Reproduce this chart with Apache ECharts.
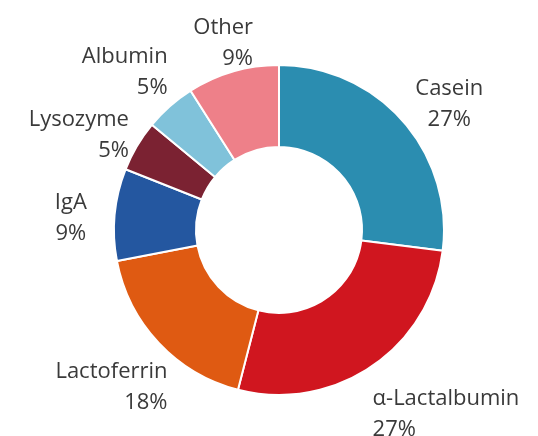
<!DOCTYPE html>
<html>
<head>
<meta charset="utf-8">
<script src="https://cdn.jsdelivr.net/npm/echarts@6/dist/echarts.min.js"></script>
<style>
  html, body { margin: 0; padding: 0; background: #ffffff; }
  #chart { width: 538px; height: 436px; }
</style>
</head>
<body>
<div id="chart"></div>
<script>
// Protein composition shares (percent)
const categories = ['Casein', 'α-Lactalbumin', 'Lactoferrin', 'IgA', 'Lysozyme', 'Albumin', 'Other'];
const shares = [27, 27, 18, 9, 5, 5, 9];
const sliceColors = ['#2b8db0', '#d0161f', '#df5a12', '#2457a0', '#7b2232', '#80c2da', '#ee8089'];

// text alignment of each two-line label and a small nudge from its default spot
const labelAlign = ['center', 'left', 'right', 'center', 'right', 'right', 'right'];
const labelNudge = [
  [-3, -7], [-12, 36], [24, 35], [-9, 5], [9, -4], [12, -23], [29, -15]
];

const chart = echarts.init(document.getElementById('chart'), null, { renderer: 'canvas' });

chart.setOption({
  animation: false,
  backgroundColor: '#ffffff',
  series: [{
    type: 'pie',
    center: [279, 230],
    radius: [83, 165],
    startAngle: 90,
    clockwise: true,
    avoidLabelOverlap: false,
    itemStyle: { borderColor: '#ffffff', borderWidth: 2 },
    label: {
      show: true,
      position: 'outside',
      formatter: p => p.name + '\n' + p.value + '%',
      color: '#3a3a3a',
      fontFamily: 'Open Sans',
      fontSize: 22,
      lineHeight: 31
    },
    labelLine: { show: false, length: 14, length2: 0 },
    labelLayout: p => {
      const r = p.labelRect;
      const a = labelAlign[p.dataIndex];
      const n = labelNudge[p.dataIndex];
      const x = a === 'left' ? r.x : (a === 'right' ? r.x + r.width : r.x + r.width / 2);
      return { x: x + n[0], y: r.y + r.height / 2 + n[1], align: a, verticalAlign: 'middle' };
    },
    data: categories.map((c, i) => ({
      name: c,
      value: shares[i],
      itemStyle: { color: sliceColors[i] }
    }))
  }]
});
</script>
</body>
</html>
